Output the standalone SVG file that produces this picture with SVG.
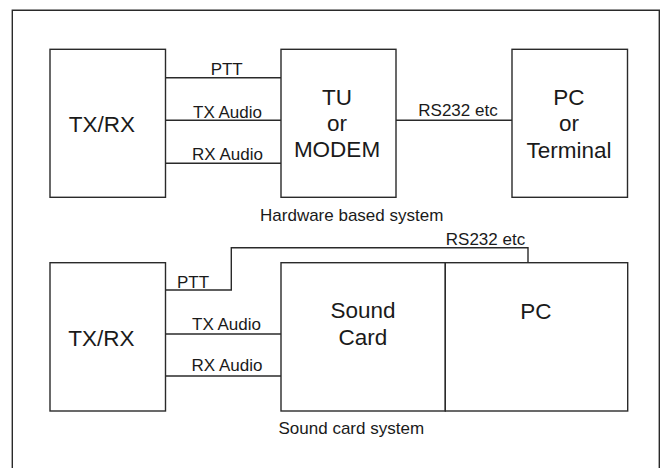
<svg xmlns="http://www.w3.org/2000/svg" width="665" height="468" viewBox="0 0 665 468">
<style>
.box{fill:#fff;stroke:#2a2a2a;stroke-width:1.4}
.ln{fill:none;stroke:#2a2a2a;stroke-width:1.4}
.big{font-family:"Liberation Sans",Arial,sans-serif;font-size:22.5px;fill:#1a1a1a;text-anchor:middle}
.sm{font-family:"Liberation Sans",Arial,sans-serif;font-size:17px;fill:#1a1a1a;text-anchor:middle}
</style>
<rect x="0" y="0" width="665" height="468" fill="#fff"/>
<path class="ln" d="M12.3,475 V10.3 H659.3 V475"/>
<g id="connectors">
<line class="ln" x1="165.5" y1="77.7" x2="281" y2="77.7"/>
<line class="ln" x1="165.5" y1="120.3" x2="281" y2="120.3"/>
<line class="ln" x1="165.5" y1="163.3" x2="281" y2="163.3"/>
<line class="ln" x1="396" y1="120.3" x2="515.5" y2="120.3"/>
<polyline class="ln" points="165.5,290 231.3,290 231.3,247.7 528,247.7 528,264"/>
<line class="ln" x1="165.5" y1="334" x2="281" y2="334"/>
<line class="ln" x1="165.5" y1="376" x2="281" y2="376"/>
<text class="sm" x="226.7" y="75">PTT</text>
<text class="sm" x="227.5" y="118">TX Audio</text>
<text class="sm" x="227.5" y="160">RX Audio</text>
<text class="sm" x="458" y="116">RS232 etc</text>
<text class="sm" x="193" y="287.5">PTT</text>
<text class="sm" x="226.5" y="330">TX Audio</text>
<text class="sm" x="227" y="371">RX Audio</text>
<text class="sm" x="485.5" y="245">RS232 etc</text>
</g>
<g id="txrx1">
<rect class="box" x="50" y="49.3" width="115.5" height="148"/>
<text class="big" x="102" y="131.7">TX/RX</text>
</g>
<g id="tu">
<rect class="box" x="281" y="49.3" width="115" height="148"/>
<text class="big" x="337" y="105">TU</text>
<text class="big" x="337" y="131">or</text>
<text class="big" x="337" y="157.3">MODEM</text>
</g>
<g id="pc1">
<rect class="box" x="512" y="49.3" width="115.5" height="148"/>
<text class="big" x="569" y="105">PC</text>
<text class="big" x="569" y="130.5">or</text>
<text class="big" x="569" y="157.5">Terminal</text>
</g>
<text class="sm" x="351.7" y="221">Hardware based system</text>
<g id="txrx2">
<rect class="box" x="50" y="262.7" width="115.5" height="148.3"/>
<text class="big" x="101.5" y="346">TX/RX</text>
</g>
<g id="soundcard">
<rect class="box" x="281" y="262.7" width="164.3" height="148.3"/>
<text class="big" x="363" y="318.3">Sound</text>
<text class="big" x="363" y="345">Card</text>
</g>
<g id="pc2">
<rect class="box" x="445.3" y="262.7" width="182.4" height="148.3"/>
<text class="big" x="536" y="319">PC</text>
</g>
<text class="sm" x="351.3" y="434.3">Sound card system</text>
</svg>
